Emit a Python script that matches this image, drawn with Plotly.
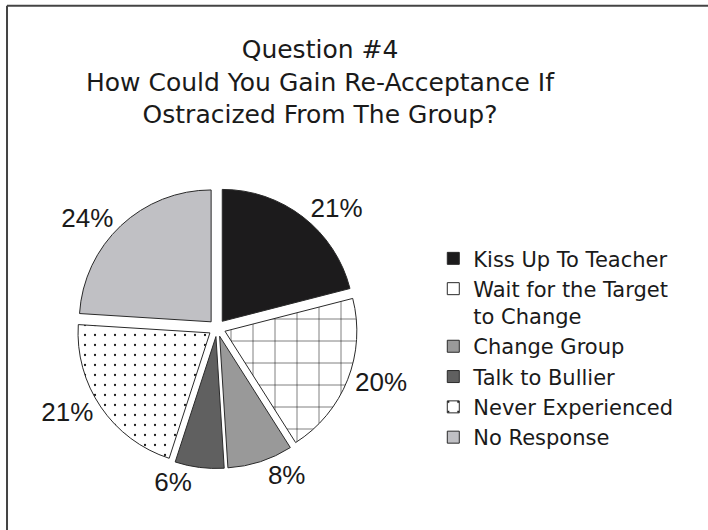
import plotly.graph_objects as go

# Survey responses, question #4 (percent of respondents)
categories = [
    "Kiss Up To Teacher",
    "Wait for the Target<br>to Change",
    "Change Group",
    "Talk to Bullier",
    "Never Experienced",
    "No Response",
]
percents = [21, 20, 8, 6, 21, 24]

slice_colors = ["#1c1b1c", "#ffffff", "#999999", "#606060", "#ffffff", "#c0c0c4"]
slice_patterns = ["", "+", "", "", ".", ""]

title_text = ("Question #4<br>How Could You Gain Re-Acceptance If<br>"
              "Ostracized From The Group?")

fig = go.Figure(
    go.Pie(
        labels=categories,
        values=percents,
        sort=False,
        direction="clockwise",
        rotation=0,
        pull=0.065,
        texttemplate="%{value}%",
        textposition="outside",
        outsidetextfont=dict(family="Liberation Sans, Arial, sans-serif", size=26, color="#1a1a1a"),
        marker=dict(
            colors=slice_colors,
            line=dict(color="#2a2a2a", width=1),
            pattern=dict(
                shape=slice_patterns,
                fgcolor="#1a1a1a",
                bgcolor="#ffffff",
                size=[10, 22, 10, 10, 10, 10],
                solidity=[0.2, 0.05, 0.2, 0.2, 0.04, 0.2],
            ),
        ),
        domain=dict(x=[0.108, 0.505], y=[0.116, 0.646]),
        hoverinfo="label+percent",
    )
)

fig.update_layout(
    width=708,
    height=530,
    margin=dict(l=0, r=0, t=0, b=0),
    paper_bgcolor="white",
    plot_bgcolor="white",
    font=dict(family="DejaVu Sans, sans-serif", color="#1a1a1a"),
    title=dict(
        text=title_text,
        x=0.452,
        xanchor="center",
        y=0.89,
        yanchor="top",
        font=dict(family="DejaVu Sans, sans-serif", size=25, color="#1a1a1a"),
    ),
    legend=dict(
        x=0.612,
        xanchor="left",
        y=0.343,
        yanchor="middle",
        valign="top",
        font=dict(family="DejaVu Sans, sans-serif", size=21, color="#1a1a1a"),
        bgcolor="rgba(0,0,0,0)",
    ),
    shapes=[
        dict(type="line", xref="paper", yref="paper", x0=0.0099, x1=1.0, y0=0.989, y1=0.989,
             line=dict(color="#444444", width=2)),
        dict(type="line", xref="paper", yref="paper", x0=0.0099, x1=0.0099, y0=0.0, y1=0.989,
             line=dict(color="#444444", width=2)),
    ],
)

fig.write_html("out.html")
